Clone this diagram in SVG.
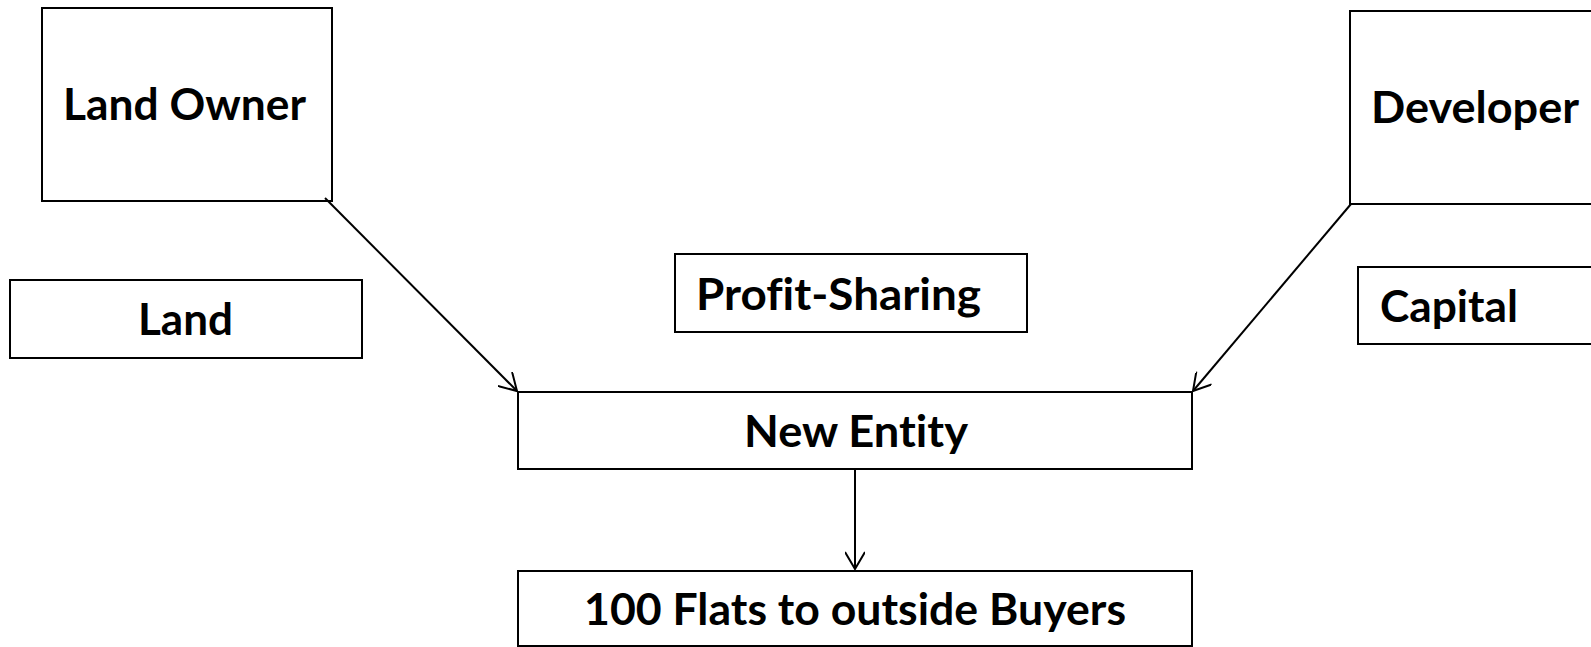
<svg xmlns="http://www.w3.org/2000/svg" width="1591" height="647" viewBox="0 0 1591 647">
  <style>
    .box { fill: #ffffff; stroke: #000000; stroke-width: 2; }
    .label { font-family: Lato, "Open Sans", "Liberation Sans", sans-serif; font-weight: 700; font-size: 44px; fill: #000000; font-variant-ligatures: none; }
    .link { fill: none; stroke: #000000; stroke-width: 2; }
  </style>
  <defs>
    <marker id="open-arrow" viewBox="0 0 20 20" refX="19" refY="10" markerWidth="20" markerHeight="20" markerUnits="userSpaceOnUse" orient="auto">
      <path d="M2,0 L19,10 L2,20" fill="none" stroke="#000000" stroke-width="2"/>
    </marker>
  </defs>
  <rect width="1591" height="647" fill="#ffffff"/>

  <g id="land-owner">
    <rect class="box" x="42" y="8" width="290" height="193"/>
    <text class="label" x="63" y="120" textLength="243" lengthAdjust="spacingAndGlyphs">Land Owner</text>
  </g>

  <g id="land">
    <rect class="box" x="10" y="280" width="352" height="78"/>
    <text class="label" x="138" y="335" textLength="95" lengthAdjust="spacingAndGlyphs">Land</text>
  </g>

  <g id="developer">
    <rect class="box" x="1350" y="11" width="260" height="193"/>
    <text class="label" x="1371" y="123" textLength="208" lengthAdjust="spacingAndGlyphs">Developer</text>
  </g>

  <g id="capital">
    <rect class="box" x="1358" y="267" width="260" height="77"/>
    <text class="label" x="1380" y="322" textLength="138" lengthAdjust="spacingAndGlyphs">Capital</text>
  </g>

  <g id="profit-sharing">
    <rect class="box" x="675" y="254" width="352" height="78"/>
    <text class="label" x="696" y="310" textLength="285" lengthAdjust="spacingAndGlyphs">Profit-Sharing</text>
  </g>

  <g id="new-entity">
    <rect class="box" x="518" y="392" width="674" height="77"/>
    <text class="label" x="744" y="447" textLength="224" lengthAdjust="spacingAndGlyphs">New Entity</text>
  </g>

  <g id="flats">
    <rect class="box" x="518" y="571" width="674" height="75"/>
    <text class="label" x="584" y="625" textLength="542" lengthAdjust="spacingAndGlyphs">100 Flats to outside Buyers</text>
  </g>

  <g id="connectors">
    <line class="link" x1="325" y1="198" x2="517" y2="391" marker-end="url(#open-arrow)"/>
    <line class="link" x1="1351" y1="204" x2="1193" y2="391" marker-end="url(#open-arrow)"/>
    <line class="link" x1="855" y1="469" x2="855" y2="569" marker-end="url(#open-arrow)"/>
  </g>
</svg>
